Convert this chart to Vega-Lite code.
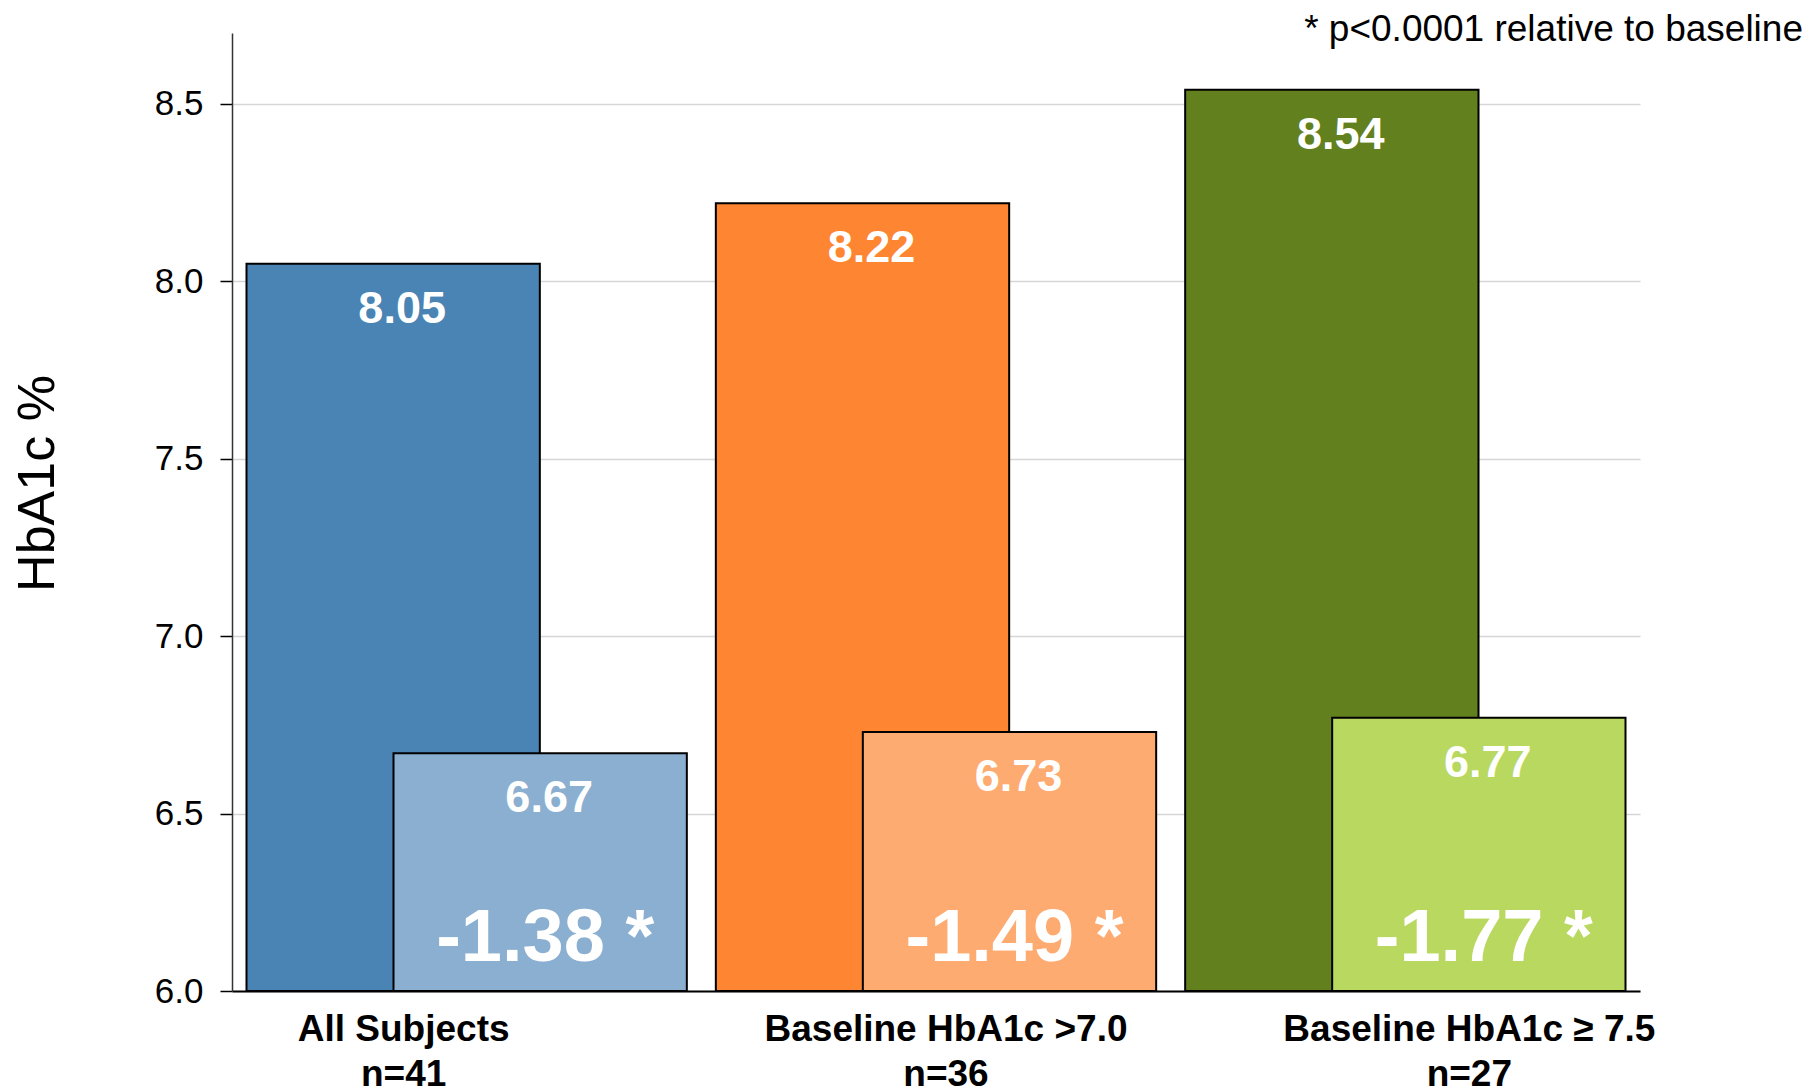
{
  "$schema": "https://vega.github.io/schema/vega-lite/v6.json",
  "width": 1408,
  "height": 958,
  "autosize": "none",
  "padding": {"left": 232, "top": 33, "right": 171, "bottom": 101},
  "background": "white",
  "config": {"view": {"stroke": null}, "font": "Liberation Sans"},
  "title": {
    "text": "* p<0.0001 relative to baseline",
    "anchor": "end", "frame": "group", "orient": "top",
    "font": "Liberation Sans", "fontSize": 37, "fontWeight": "normal", "color": "black",
    "dx": 163, "offset": 0, "baseline": "alphabetic", "dy": 45
  },
  "data": {"values": [
    {"group": "All Subjects|n=41", "period": "Baseline", "value": 8.05, "change": ""},
    {"group": "Baseline HbA1c >7.0|n=36", "period": "Baseline", "value": 8.22, "change": ""},
    {"group": "Baseline HbA1c ≥ 7.5|n=27", "period": "Baseline", "value": 8.54, "change": ""},
    {"group": "All Subjects|n=41", "period": "Follow-up", "value": 6.67, "change": "-1.38 *"},
    {"group": "Baseline HbA1c >7.0|n=36", "period": "Follow-up", "value": 6.73, "change": "-1.49 *"},
    {"group": "Baseline HbA1c ≥ 7.5|n=27", "period": "Follow-up", "value": 6.77, "change": "-1.77 *"}
  ]},
  "encoding": {
    "x": {
      "field": "group", "type": "nominal", "sort": null,
      "scale": {"paddingInner": 0, "paddingOuter": 0},
      "axis": {
        "title": null, "labelAngle": 0, "ticks": false, "labelLimit": 0,
        "domainColor": "black", "domainWidth": 2,
        "labelFont": "Liberation Sans", "labelFontSize": 37, "labelFontWeight": "bold", "labelColor": "black",
        "labelExpr": "split(datum.label, '|')", "labelLineHeight": 45, "labelBaseline": "top", "labelPadding": 20,
        "labelOffset": {"expr": "indexof(datum.value, 'All') == 0 ? -63 : (indexof(datum.value, '>7.0') >= 0 ? 10 : 64)"}
      }
    },
    "y": {
      "field": "value", "type": "quantitative",
      "scale": {"domain": [6, 8.7], "nice": false, "zero": false},
      "axis": {
        "title": "HbA1c %", "values": [6, 6.5, 7, 7.5, 8, 8.5], "format": ".1f",
        "grid": true, "gridColor": "#d6d6d6", "gridWidth": 1.5,
        "domainColor": "#333", "domainWidth": 1.5,
        "tickColor": "black", "tickSize": 12, "tickWidth": 1.5,
        "labelFont": "Liberation Sans", "labelFontSize": 35, "labelColor": "black", "labelPadding": 17,
        "titleFont": "Liberation Sans", "titleFontSize": 52, "titleFontWeight": "normal", "titleColor": "black",
        "titlePadding": 90, "titleY": 450
      }
    }
  },
  "layer": [
    {
      "transform": [{"filter": "datum.period == 'Baseline'"}],
      "mark": {"type": "bar", "width": {"band": 0.625}, "xOffset": -73.5, "stroke": "black", "strokeWidth": 2},
      "encoding": {
        "y2": {"datum": 6},
        "color": {"field": "group", "type": "nominal", "sort": null, "legend": null,
          "scale": {"range": ["#4a84b4", "#fe8532", "#63801f"]}}
      }
    },
    {
      "transform": [{"filter": "datum.period == 'Baseline'"}],
      "mark": {"type": "text", "xOffset": -64.5, "dy": 45, "baseline": "middle", "align": "center",
        "font": "Liberation Sans", "fontSize": 45, "fontWeight": "bold", "color": "white"},
      "encoding": {"text": {"field": "value", "type": "quantitative", "format": ".2f"}}
    },
    {
      "transform": [{"filter": "datum.period == 'Follow-up'"}],
      "mark": {"type": "bar", "width": {"band": 0.625}, "xOffset": 73.5, "stroke": "black", "strokeWidth": 2},
      "encoding": {
        "y2": {"datum": 6},
        "color": {"field": "group", "type": "nominal", "sort": null, "legend": null,
          "scale": {"range": ["#8bafd0", "#feab72", "#b8d85f"]}}
      }
    },
    {
      "transform": [{"filter": "datum.period == 'Follow-up'"}],
      "mark": {"type": "text", "xOffset": 82.5, "dy": 45, "baseline": "middle", "align": "center",
        "font": "Liberation Sans", "fontSize": 45, "fontWeight": "bold", "color": "white"},
      "encoding": {"text": {"field": "value", "type": "quantitative", "format": ".2f"}}
    },
    {
      "transform": [{"filter": "datum.period == 'Follow-up'"}],
      "mark": {"type": "text", "xOffset": 78.5, "dy": -30, "baseline": "alphabetic", "align": "center",
        "font": "Liberation Sans", "fontSize": 74, "fontWeight": "bold", "color": "white"},
      "encoding": {
        "y": {"datum": 6},
        "text": {"field": "change", "type": "nominal"}
      }
    }
  ],
  "resolve": {"scale": {"color": "independent"}}
}
